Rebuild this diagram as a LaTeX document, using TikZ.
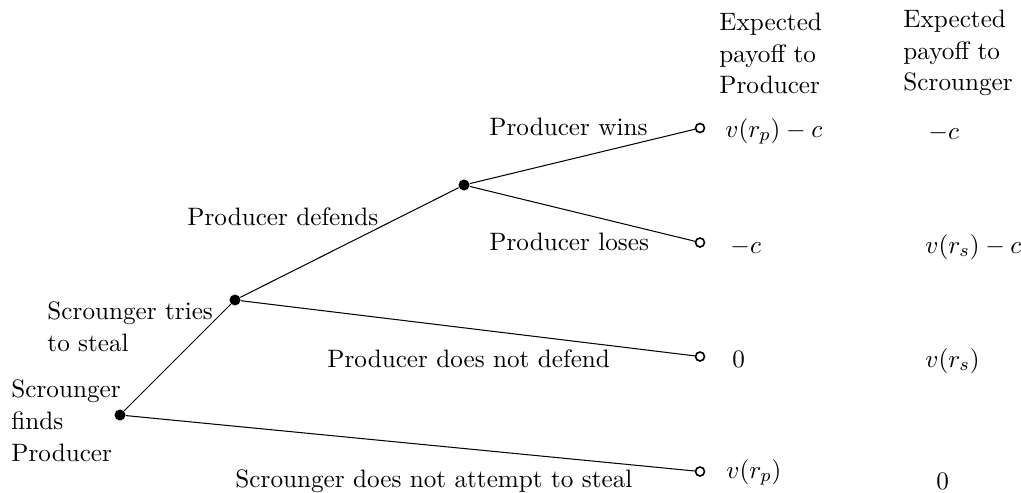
\documentclass[tikz,border=0pt]{standalone}
\begin{document}
\begin{tikzpicture}[x=0.435pt,y=-0.435pt,
  font=\fontsize{10.95}{13.8}\selectfont,
  lbl/.style={inner sep=0pt, anchor=base west},
  ml/.style={inner sep=0pt, anchor=north west, align=left},
  dec/.style={circle, fill=black, inner sep=0pt, minimum size=4.8pt},
  term/.style={circle, draw=black, fill=white, line width=0.7pt, inner sep=0pt, minimum size=3.9pt},
  edge/.style={line width=0.45pt}]
\useasboundingbox (0,0) rectangle (1021,492);
% decision nodes
\node[dec] (r) at (120,415) {};
\node[dec] (a) at (235,300) {};
\node[dec] (b) at (464,185) {};
% terminal nodes
\node[term] (t1) at (700,128) {};
\node[term] (t2) at (700,242.5) {};
\node[term] (t3) at (700,356.5) {};
\node[term] (t4) at (700,471.5) {};
% edges
\draw[edge] (r) -- (a);
\draw[edge] (a) -- (b);
\draw[edge] (b) -- (t1);
\draw[edge] (b) -- (t2);
\draw[edge] (a) -- (t3);
\draw[edge] (r) -- (t4);
% edge labels
\node[lbl] (lw) at (489,135) {Producer wins};
\node[lbl] (ld) at (187,225) {Producer defends};
\node[lbl] (ll) at (489,250) {Producer loses};
\node[lbl] (lnd) at (327,367) {Producer does not defend};
\node[lbl] (lns) at (235,487) {Scrounger does not attempt to steal};
\node[ml] (lts) at (47,301.5) {Scrounger tries\\to steal};
\node[ml] (lfp) at (11,379.5) {Scrounger\\finds\\Producer};
% headers
\node[ml] (hp) at (719,12.5) {Expected\\payoff to\\Producer};
\node[ml] (hs) at (903,9.5) {Expected\\payoff to\\Scrounger};
% payoffs
\node[lbl] (p1) at (725,137) {$v(r_p)-c$};
\node[lbl] (s1) at (928,139) {$-c$};
\node[lbl] (p2) at (730,253) {$-c$};
\node[lbl] (s2) at (925,253) {$v(r_s)-c$};
\node[lbl] (p3) at (732,367) {$0$};
\node[lbl] (s3) at (925,367) {$v(r_s)$};
\node[lbl] (p4) at (726,478) {$v(r_p)$};
\node[lbl] (s4) at (936,489) {$0$};
\end{tikzpicture}
\end{document}
